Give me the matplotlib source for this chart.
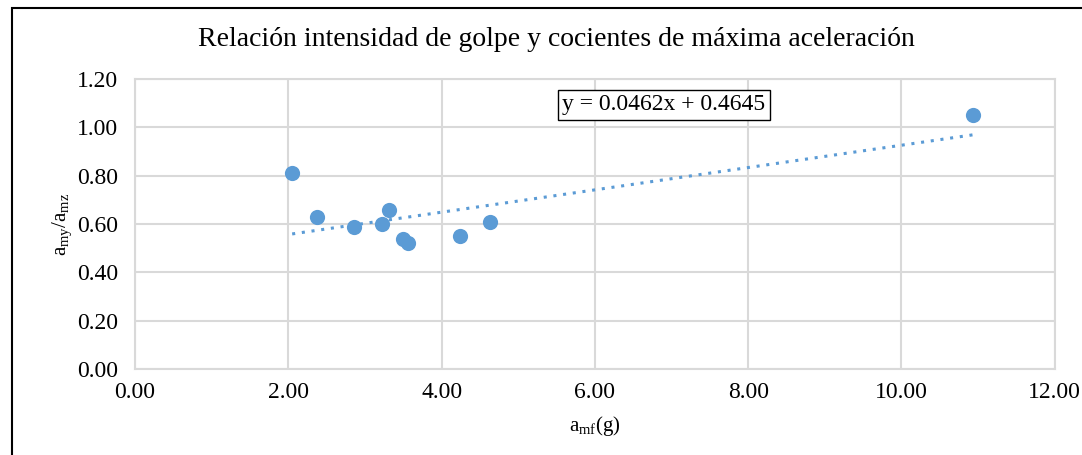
import matplotlib
matplotlib.use("Agg")
import matplotlib.pyplot as plt
from matplotlib.patches import Rectangle
import numpy as np

# data
amf = [2.05, 2.38, 2.86, 3.22, 3.31, 3.49, 3.56, 4.24, 4.63, 10.93]
ratio = [0.81, 0.63, 0.59, 0.60, 0.66, 0.54, 0.52, 0.55, 0.61, 1.05]
slope, intercept = 0.0462, 0.4645
xticks = [0, 2, 4, 6, 8, 10, 12]
yticks = [0.0, 0.2, 0.4, 0.6, 0.8, 1.0, 1.2]

BLUE = "#5B9BD5"
GRID = "#D9D9D9"

plt.rcParams["font.family"] = ["Liberation Serif", "DejaVu Serif"]
plt.rcParams["mathtext.fontset"] = "custom"
plt.rcParams["mathtext.rm"] = "Liberation Serif"

fig = plt.figure(figsize=(10.82, 4.55), dpi=100)
ax = fig.add_axes([0.1248, 0.189, 0.850, 0.637])

ax.scatter(amf, ratio, s=120, color=BLUE, zorder=3, linewidths=0)

# linear trendline (Excel-style, dotted)
xs = np.array([min(amf), max(amf)])
ax.plot(xs, slope * xs + intercept, color=BLUE, linestyle=(0, (1, 2.2)),
        linewidth=2.2, zorder=2)

ax.set_xlim(0, 12)
ax.set_ylim(0, 1.2)
ax.set_xticks(xticks)
ax.set_yticks(yticks)
ax.set_xticklabels([f"{v:.2f}" for v in xticks])
ax.set_yticklabels([f"{v:.2f}" for v in yticks])
ax.tick_params(length=0, labelsize=17)
ax.tick_params(axis="x", pad=9)
ax.tick_params(axis="y", pad=12)
ax.grid(True, color=GRID, linewidth=1.5)
ax.set_axisbelow(True)
for sp in ax.spines.values():
    sp.set_color(GRID)
    sp.set_linewidth(1.5)

ax.set_xlabel(r"$\mathregular{a_{mf}(g)}$", fontsize=15, labelpad=8)
ax.set_ylabel(r"$\mathregular{a_{my}/a_{mz}}$", fontsize=15, labelpad=2)
fig.text(556 / 1082, 1 - 39 / 455,
         "Relación intensidad de golpe y cocientes de máxima aceleración",
         fontsize=20, ha="center", va="center")

ax.text(6.90, 1.094, f"y = {slope}x + {intercept}", fontsize=17,
        ha="center", va="center",
        bbox=dict(boxstyle="square,pad=0.2", fc="white", ec="black", lw=1))

# outer black frame (left and top edges visible in the reference)
fig.patches.append(Rectangle((12 / 1082, -0.1), 1.2, 1.1 - 8 / 455,
                             transform=fig.transFigure, fill=False,
                             edgecolor="black", linewidth=1.5))

fig.savefig("out.png", dpi=100)
